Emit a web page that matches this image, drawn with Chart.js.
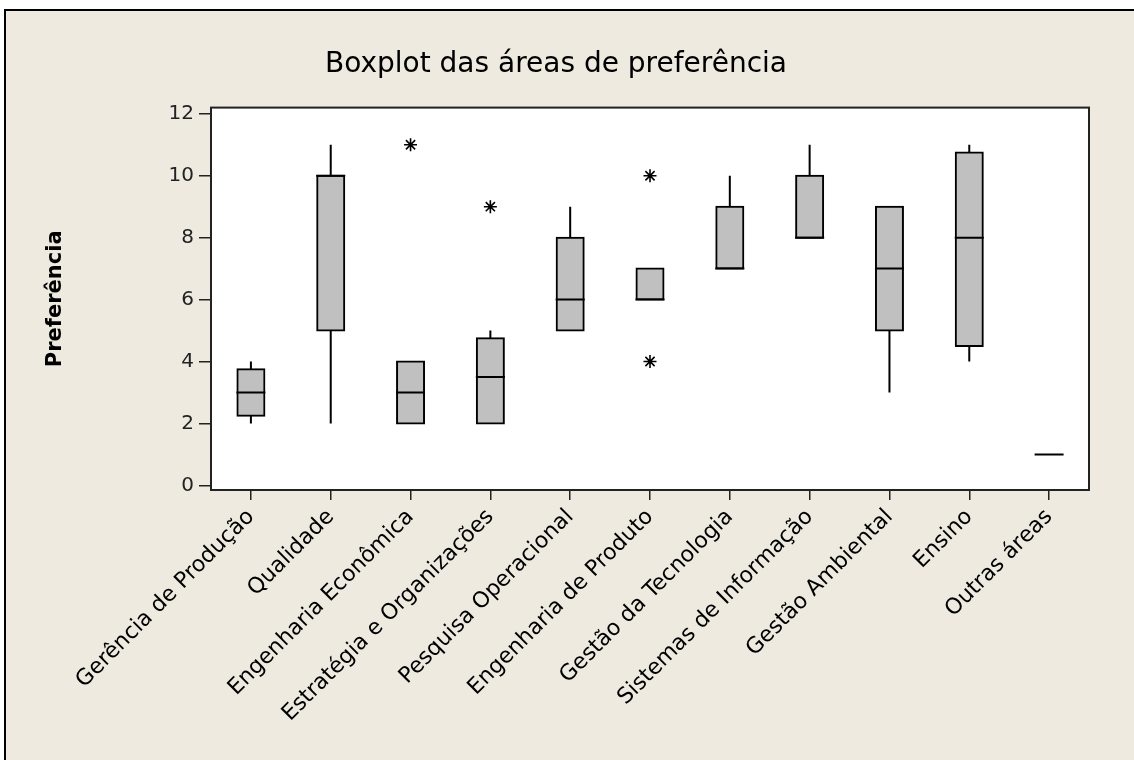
<!DOCTYPE html>
<html lang="pt">
<head>
<meta charset="utf-8">
<title>Boxplot das áreas de preferência</title>
<script src="https://cdn.jsdelivr.net/npm/chart.js@4/dist/chart.umd.min.js"></script>
<style>
  html, body { margin: 0; padding: 0; background: #ffffff; }
  #wrap { width: 1134px; height: 760px; position: relative; }
</style>
</head>
<body>
<div id="wrap"><canvas id="chart" width="1134" height="760"></canvas></div>
<script>
// Áreas avaliadas
const categories = [
  'Gerência de Produção', 'Qualidade', 'Engenharia Econômica',
  'Estratégia e Organizações', 'Pesquisa Operacional', 'Engenharia de Produto',
  'Gestão da Tecnologia', 'Sistemas de Informação', 'Gestão Ambiental',
  'Ensino', 'Outras áreas'
];

// Resumo de cada área: extremos dos bigodes, quartis e mediana
const whiskerLow  = [2,    2,  2, 2,    5, 6, 7, 8,  3, 4,     1];
const q1          = [2.25, 5,  2, 2,    5, 6, 7, 8,  5, 4.5,   1];
const median      = [3,    10, 3, 3.5,  6, 6, 7, 8,  7, 8,     1];
const q3          = [3.75, 10, 4, 4.75, 8, 7, 9, 10, 9, 10.75, 1];
const whiskerHigh = [4,    11, 4, 5,    9, 7, 10, 11, 9, 11,   1];

// Valores atípicos (área, valor)
const outlierArea  = ['Engenharia Econômica', 'Estratégia e Organizações', 'Engenharia de Produto', 'Engenharia de Produto'];
const outlierValue = [11, 9, 10, 4];

// Marcas do eixo vertical
const yTicks = [0, 2, 4, 6, 8, 10, 12];

const FONT = "'DejaVu Sans', sans-serif";
const FRAME = '#222222';

// Fundo da janela, moldura externa e área de plotagem
const framePlugin = {
  id: 'frame',
  beforeDraw(chart) {
    const { ctx, chartArea: a, width, height } = chart;
    ctx.save();
    ctx.fillStyle = '#ffffff';
    ctx.fillRect(0, 0, width, height);
    ctx.fillStyle = '#EEEAE0';
    ctx.fillRect(5, 10, width + 10, height + 10);
    ctx.strokeStyle = '#000000';
    ctx.lineWidth = 2;
    ctx.strokeRect(5, 10, width + 10, height + 10);
    ctx.fillStyle = '#ffffff';
    ctx.fillRect(a.left, a.top, a.right - a.left, a.bottom - a.top);
    ctx.restore();
  },
  afterDraw(chart) {
    const { ctx, chartArea: a } = chart;
    ctx.save();
    ctx.strokeStyle = FRAME;
    ctx.lineWidth = 2;
    ctx.strokeRect(a.left, a.top, a.right - a.left, a.bottom - a.top);
    ctx.restore();
  }
};

const lowerWhiskers = categories.map((_, i) => [whiskerLow[i], q1[i]]);
const upperWhiskers = categories.map((_, i) => [q3[i], whiskerHigh[i]]);
const boxes = categories.map((_, i) => [q1[i], q3[i]]);
const outliers = outlierArea.map((c, i) => ({ x: c, y: outlierValue[i] }));

new Chart(document.getElementById('chart'), {
  type: 'bar',
  data: {
    labels: categories,
    datasets: [
      {
        label: 'Atípicos',
        type: 'line',
        data: outliers,
        showLine: false,
        order: 0,
        pointStyle: 'star',
        pointRadius: 6.5,
        pointBorderWidth: 1.6,
        pointBorderColor: '#000000',
        pointBackgroundColor: '#000000'
      },
      {
        label: 'Mediana',
        type: 'line',
        data: median,
        showLine: false,
        order: 1,
        pointStyle: 'line',
        pointRadius: 14.5,
        pointBorderWidth: 2,
        pointBorderColor: '#000000'
      },
      {
        label: 'Quartis',
        data: boxes,
        order: 2,
        grouped: false,
        barThickness: 27,
        inflateAmount: 1,
        backgroundColor: '#C0C0C0',
        borderColor: '#000000',
        borderWidth: 2,
        borderSkipped: false
      },
      {
        label: 'Bigode inferior',
        data: lowerWhiskers,
        order: 3,
        grouped: false,
        barThickness: 2,
        inflateAmount: 0,
        backgroundColor: '#000000',
        borderWidth: 0
      },
      {
        label: 'Bigode superior',
        data: upperWhiskers,
        order: 3,
        grouped: false,
        barThickness: 2,
        inflateAmount: 0,
        backgroundColor: '#000000',
        borderWidth: 0
      }
    ]
  },
  options: {
    responsive: false,
    animation: false,
    events: [],
    layout: { padding: { left: 23, right: 45, top: 0, bottom: 0 } },
    plugins: {
      legend: { display: false },
      tooltip: { enabled: false },
      title: {
        display: true,
        text: 'Boxplot das áreas de preferência',
        color: '#000000',
        font: { family: FONT, size: 28, weight: 'normal' },
        padding: { top: 48, bottom: 26 }
      }
    },
    scales: {
      x: {
        type: 'category',
        offset: true,
        afterFit(scale) { scale.height = 270; },
        grid: {
          display: true,
          offset: false,
          drawOnChartArea: false,
          drawTicks: true,
          tickLength: 10,
          color: FRAME,
          lineWidth: 1.5
        },
        border: { display: false },
        ticks: {
          autoSkip: false,
          maxRotation: 45,
          minRotation: 45,
          padding: 4,
          color: '#000000',
          font: { family: FONT, size: 22 }
        }
      },
      y: {
        type: 'linear',
        min: -0.15,
        max: 12.2,
        afterFit(scale) { scale.width = 188; },
        afterBuildTicks(scale) { scale.ticks = yTicks.map(v => ({ value: v })); },
        grid: {
          display: true,
          drawOnChartArea: false,
          drawTicks: true,
          tickLength: 12,
          color: FRAME,
          lineWidth: 1.5
        },
        border: { display: false },
        ticks: {
          padding: 5,
          color: '#222222',
          font: { family: FONT, size: 20 }
        },
        title: {
          display: true,
          text: 'Preferência',
          color: '#000000',
          font: { family: FONT, size: 21, weight: 'bold' },
          padding: { top: 20, bottom: 0 }
        }
      }
    }
  },
  plugins: [framePlugin]
});
</script>
</body>
</html>
